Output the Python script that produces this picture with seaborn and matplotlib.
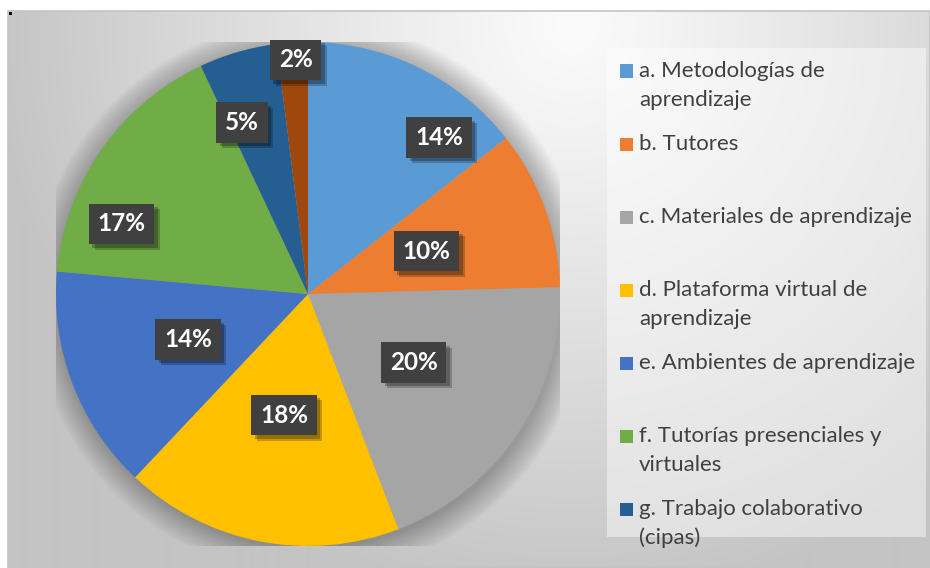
import numpy as np
import matplotlib
matplotlib.use("Agg")
import matplotlib.pyplot as plt
import matplotlib.patheffects as pe
from matplotlib.patches import Rectangle, Circle
import seaborn as sns

# ---------------- data ----------------
categories = [
    "a. Metodologías de\naprendizaje",
    "b. Tutores",
    "c. Materiales de aprendizaje",
    "d. Plataforma virtual de\naprendizaje",
    "e. Ambientes de aprendizaje",
    "f. Tutorías presenciales y\nvirtuales",
    "g. Trabajo colaborativo\n(cipas)",
    "h.",
]
values = [14.4, 10.2, 19.6, 17.9, 14.4, 16.6, 5.0, 2.0]
colors = ["#5B9BD5", "#ED7D31", "#A5A5A5", "#FFC000",
          "#4472C4", "#70AD47", "#255E91", "#9E480E"]
legend_count = 7  # the last entry is clipped off the legend in the original

# ---------------- layout (styles / positions) ----------------
label_frac = [0.77, 0.50, 0.49, 0.50, 0.50, 0.26, 0.23, 0.58]
label_rad = [0.81, 0.50, 0.50, 0.49, 0.51, 0.79, 0.73, 0.93]

W, H = 930, 568
sns.set_theme(style="white")
plt.rcParams["font.family"] = ["Lato", "DejaVu Sans"]

fig = plt.figure(figsize=(W / 100, H / 100), dpi=100)
fig.patch.set_facecolor("white")


def fx(x):
    return x / W


def fy(y):
    return 1 - y / H


# background radial gradient inside the chart frame
x0, y0 = 8, 11
bg = fig.add_axes([fx(x0), 0, 1 - fx(x0), fy(y0)])
xs = np.arange(x0, W)
ys = np.arange(y0, H)
XX, YY = np.meshgrid(xs, ys)
d = np.hypot(XX - 570, YY - 25)
g = 251 - 55 * np.clip(d / 580, 0, 1) ** 1.1
img = np.dstack([g, g, g]) / 255.0
bg.imshow(img, extent=[x0, W, H, y0], aspect="auto", interpolation="bilinear")
bg.set_xlim(x0, W)
bg.set_ylim(H, y0)
bg.axis("off")
# frame border
fig.patches.append(Rectangle((fx(x0), fy(H - 1)), 1 - fx(x0) - 0.0005, fy(y0) - fy(H - 1),
                             transform=fig.transFigure, fill=False,
                             ec="#c4c4c4", lw=1.2, zorder=1))
fig.patches.append(Rectangle((fx(9), fy(15)), 3 / W, 3 / H, transform=fig.transFigure,
                             fc="black", ec="none", zorder=2))

# pie axes
cx, cy, r = 308, 294, 252
ax = fig.add_axes([fx(cx - r), fy(cy + r), 2 * r / W, 2 * r / H])
ax.patch.set_alpha(0)

# soft shadow around pie
for k in range(18):
    ax.add_patch(Circle((0.01, -0.012), 1.0 + 0.006 * k, fc="black",
                        alpha=0.016, ec="none", zorder=0))

wedges, _ = ax.pie(values, colors=sns.color_palette(colors), startangle=90,
                   counterclock=False, radius=1.0,
                   wedgeprops=dict(linewidth=0, edgecolor="none", zorder=1))
ax.set_xlim(-1, 1)
ax.set_ylim(-1, 1)
ax.set_aspect("equal")
ax.axis("off")

total = sum(values)
shadow = [pe.SimplePatchShadow(offset=(4, -4), shadow_rgbFace="black", alpha=0.22),
          pe.SimplePatchShadow(offset=(2.5, -2.5), shadow_rgbFace="black", alpha=0.25),
          pe.Normal()]
for w, v, fr, rr in zip(wedges, values, label_frac, label_rad):
    ang = np.deg2rad(w.theta2 - fr * (w.theta2 - w.theta1))
    lx, ly = rr * np.cos(ang), rr * np.sin(ang)
    txt = f"{v / total * 100:.0f}%"
    t = ax.text(lx, ly, txt, ha="center", va="center", fontsize=17.5, fontweight="bold",
                color="white", zorder=4,
                bbox=dict(boxstyle="square,pad=0.36", fc="#404040", ec="none"))
    t.get_bbox_patch().set_path_effects(shadow)

# legend (drawn manually to mimic the equal row spacing)
fig.patches.append(Rectangle((fx(607), fy(537)), (926 - 607) / W, (537 - 48) / H,
                             transform=fig.transFigure, fc="white", alpha=0.45,
                             ec="none", zorder=2))
row0, row_step, line_step = 71, 73, 29
for i in range(legend_count):
    yc = row0 + i * row_step
    fig.patches.append(Rectangle((fx(620), fy(yc + 6.5)), 13 / W, 13 / H,
                                 transform=fig.transFigure, fc=colors[i], ec="none",
                                 zorder=3))
    for j, line in enumerate(categories[i].split("\n")):
        fig.text(fx(639), fy(yc + j * line_step), line, ha="left", va="center",
                 fontsize=16, color="#404040", zorder=4)

fig.savefig("out.png", dpi=100)
